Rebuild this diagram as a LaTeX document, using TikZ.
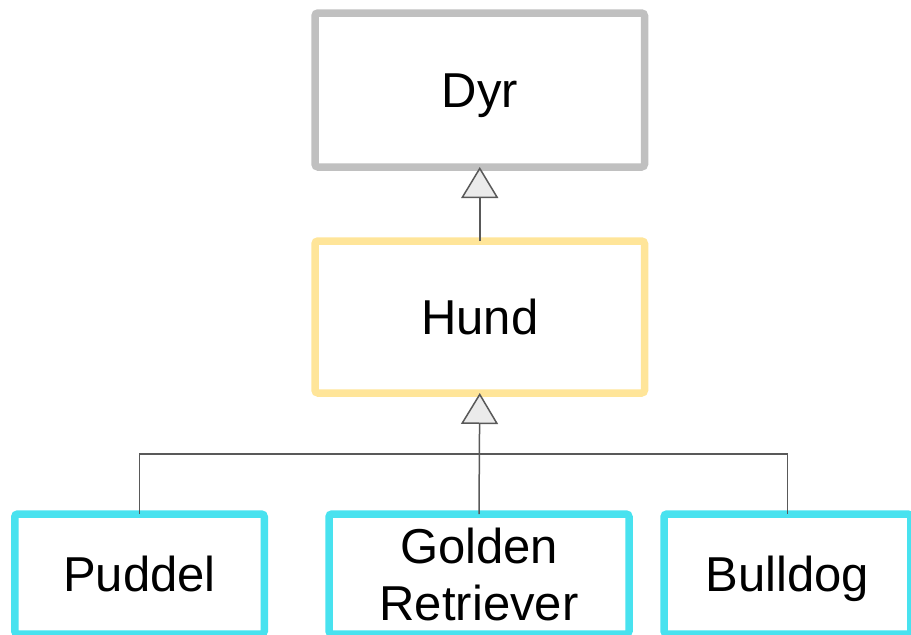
\documentclass[tikz,border=0pt]{standalone}
\usepackage{fontspec}
\setmainfont{Liberation Sans}
\usetikzlibrary{arrows.meta}
\definecolor{dyrgray}{HTML}{C0C0C0}
\definecolor{hundyellow}{HTML}{FFE599}
\definecolor{dogcyan}{HTML}{48E2EF}
\definecolor{conncol}{HTML}{595959}
\definecolor{trifill}{HTML}{EBEBEB}
\begin{document}
\begin{tikzpicture}[x=1pt,y=1pt,
  box/.style={draw, line width=7.5pt, rounded corners=3pt, fill=white, outer sep=0pt,
    inner sep=0pt, font=\fontsize{49pt}{57pt}\selectfont, align=center},
  oneline/.style={text height=35pt, text depth=0pt},
  conn/.style={draw=conncol, line width=1.5pt},
  inherit/.style={conn, -{Triangle[length=31pt,width=37pt,line width=1.5pt,fill=trifill]}}
]
\useasboundingbox (0,0) rectangle (911,-635);
\node[box, oneline, draw=dyrgray, minimum width=329.5pt, minimum height=154pt] (dyr) at (479.75,-90) {Dyr};
\node[box, oneline, draw=hundyellow, minimum width=329.5pt, minimum height=152pt] (hund) at (479.75,-317) {Hund};
\node[box, oneline, draw=dogcyan, minimum width=249.5pt, minimum height=120pt] (puddel) at (139.5,-574) {Puddel};
\node[box, draw=dogcyan, minimum width=300pt, minimum height=120pt] (golden) at (479,-574) {Golden\\Retriever};
\node[box, oneline, draw=dogcyan, minimum width=246.75pt, minimum height=120pt] (bulldog) at (787.4,-574) {Bulldog};
\draw[inherit] (hund.north) -- (dyr.south);
\draw[conn] (puddel.north) -- ++(0,60) -| (bulldog.north);
\draw[inherit] (golden.north) -- (hund.south);
\end{tikzpicture}
\end{document}
